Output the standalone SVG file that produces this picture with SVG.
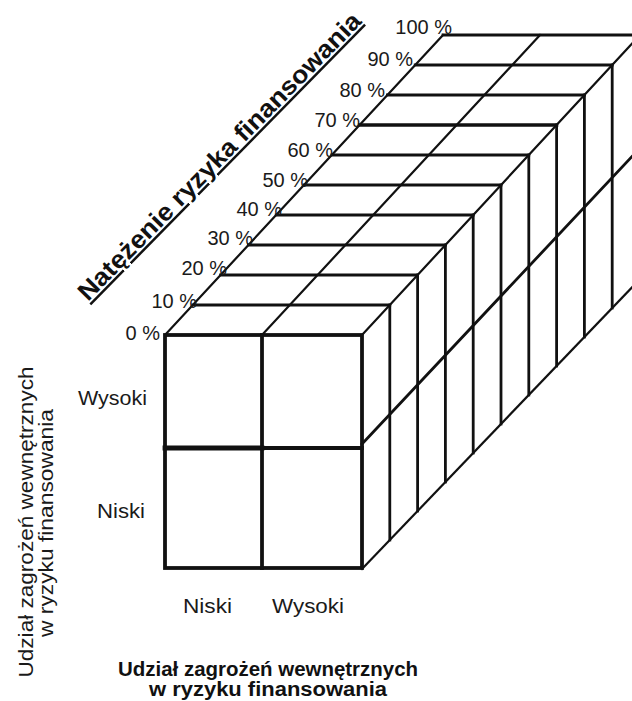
<svg xmlns="http://www.w3.org/2000/svg" width="632" height="701" viewBox="0 0 632 701">
<style>
.ln{stroke:#111;fill:none;stroke-linecap:square}
.th{stroke-width:3.8}
.md{stroke-width:2.8}
.tn{stroke-width:2.2}
.lbl{font-family:"Liberation Sans",Arial,sans-serif;font-size:20px;fill:#1a1a1a}
.pct{font-family:"Liberation Sans",Arial,sans-serif;font-size:20px;fill:#1a1a1a;text-anchor:end}
.bold{font-family:"Liberation Sans",Arial,sans-serif;font-weight:bold;fill:#111}
</style>
<rect width="632" height="701" fill="#fff"/>
<g id="top-face" class="ln">
<g class="md">
<line x1="192.8" y1="305" x2="389.8" y2="305"/>
<line x1="220.6" y1="275" x2="417.6" y2="275"/>
<line x1="248.4" y1="245" x2="445.4" y2="245"/>
<line x1="276.2" y1="215" x2="473.2" y2="215"/>
<line x1="304" y1="185" x2="501" y2="185"/>
<line x1="331.8" y1="155" x2="528.8" y2="155"/>
<line x1="359.6" y1="125" x2="556.6" y2="125" stroke-width="3.4"/>
<line x1="387.4" y1="95" x2="584.4" y2="95"/>
<line x1="415.2" y1="65" x2="612.2" y2="65"/>
<line x1="443" y1="35" x2="640" y2="35"/>
</g>
<g class="tn">
<line x1="165" y1="335" x2="443" y2="35"/>
<line x1="262" y1="335" x2="540" y2="35"/>
<line x1="362" y1="335" x2="640" y2="35"/>
</g>
</g>
<g id="right-face" class="ln">
<g class="md">
<line x1="389.8" y1="305" x2="389.8" y2="540"/>
<line x1="417.6" y1="275" x2="417.6" y2="511"/>
<line x1="445.4" y1="245" x2="445.4" y2="482"/>
<line x1="473.2" y1="215" x2="473.2" y2="453"/>
<line x1="501" y1="185" x2="501" y2="424"/>
<line x1="528.8" y1="155" x2="528.8" y2="395"/>
<line x1="556.6" y1="125" x2="556.6" y2="366"/>
<line x1="584.4" y1="95" x2="584.4" y2="337"/>
<line x1="612.2" y1="65" x2="612.2" y2="308"/>
<line x1="640" y1="35" x2="640" y2="279"/>
</g>
<g class="tn">
<line x1="362" y1="444" x2="640" y2="148" stroke-width="2.8"/>
<line x1="362" y1="569" x2="640" y2="279"/>
</g>
</g>
<g id="front-face" class="ln th">
<rect x="165" y="335" width="197" height="233"/>
<line x1="262" y1="335" x2="262" y2="568"/>
<line x1="165" y1="448" x2="262" y2="448" stroke-width="4.8"/>
<line x1="262" y1="448" x2="362" y2="448"/>
</g>
<g id="percent-labels">
<text class="pct" x="160" y="340">0 %</text>
<text class="pct" x="197" y="308">10 %</text>
<text class="pct" x="227" y="275">20 %</text>
<text class="pct" x="253" y="245">30 %</text>
<text class="pct" x="282" y="216">40 %</text>
<text class="pct" x="308" y="187">50 %</text>
<text class="pct" x="333" y="157">60 %</text>
<text class="pct" x="360" y="127">70 %</text>
<text class="pct" x="385" y="97">80 %</text>
<text class="pct" x="413" y="66">90 %</text>
<text class="pct" x="452" y="34">100 %</text>
</g>
<g id="depth-title">
<text class="bold" font-size="25" text-decoration="underline" transform="translate(88,302) rotate(-45.5)" textLength="392" lengthAdjust="spacingAndGlyphs">Natężenie ryzyka finansowania</text>
</g>
<g id="row-labels">
<text class="lbl" x="78" y="405" textLength="69" lengthAdjust="spacingAndGlyphs">Wysoki</text>
<text class="lbl" x="97" y="518" textLength="48" lengthAdjust="spacingAndGlyphs">Niski</text>
</g>
<g id="col-labels">
<text class="lbl" x="183" y="613" textLength="49" lengthAdjust="spacingAndGlyphs">Niski</text>
<text class="lbl" x="272" y="613" textLength="72" lengthAdjust="spacingAndGlyphs">Wysoki</text>
</g>
<g id="vertical-axis-title">
<text class="lbl" transform="translate(33,522) rotate(-90)" text-anchor="middle" textLength="311" lengthAdjust="spacingAndGlyphs">Udział zagrożeń wewnętrznych</text>
<text class="lbl" transform="translate(53,523) rotate(-90)" text-anchor="middle" textLength="228" lengthAdjust="spacingAndGlyphs">w ryzyku finansowania</text>
</g>
<g id="horizontal-axis-title">
<text class="bold" font-size="20" x="268" y="676" text-anchor="middle" textLength="300" lengthAdjust="spacingAndGlyphs">Udział zagrożeń wewnętrznych</text>
<text class="bold" font-size="20" x="268" y="696" text-anchor="middle" textLength="238" lengthAdjust="spacingAndGlyphs">w ryzyku finansowania</text>
</g>
</svg>
